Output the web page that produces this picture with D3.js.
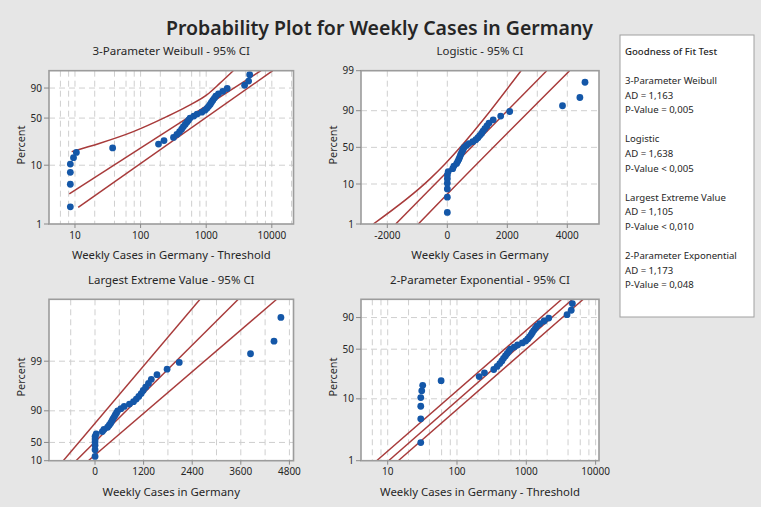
<!DOCTYPE html>
<html><head><meta charset="utf-8">
<script src="https://cdn.jsdelivr.net/npm/d3@7"></script>
<style>
html,body{margin:0;padding:0;background:#e6e6e6;}
svg{display:block;font-family:"Noto Sans","Open Sans",sans-serif;}
</style></head><body>
<svg id="chart" width="761" height="507"></svg>
<script>
// ---------------- data ----------------
const weeklyCases = [1,1,1,1,2,3,30,180,220,310,350,385,415,440,470,500,530,560,640,720,850,950,1020,1080,1140,1190,1250,1320,1390,1530,1780,2080,3840,4420,4590];
const plotPercent = [1.98,4.80,7.63,10.45,13.28,16.10,18.93,21.75,24.58,27.40,30.23,33.05,35.88,38.70,41.53,44.35,47.18,50.00,52.82,55.65,58.47,61.30,64.12,66.95,69.77,72.60,75.42,78.25,81.07,83.90,86.72,89.55,92.37,95.20,98.02];
const weibullThreshold = -7.5;
const exponentialThreshold = -29;

// fitted lines and 95% CI bounds: [axis value, percent]
const weibullFit     = [[8.19,3.3],[6839,99]];
const weibullCIUpper = [[8.91,16.6],[24.0,22.4],[77.4,33.2],[250,52.0],[505,66.6],[1019,82.6],[1622,93.9],[2588,99]];
const weibullCILower = [[11.2,1.94],[10330,99]];
const logisticFit     = [[-1720,1],[3313,99]];
const logisticCIUpper = [[-2467,1],[-577,13.1],[-77,27.0],[2457,99]];
const logisticCILower = [[-967,1],[-77,5.0],[4077,99]];
const levFit     = [[-469,1],[3538,99]];
const levCIUpper = [[-783,1],[2593,99]];
const levCILower = [[-165,1],[4486,99]];
const expFit     = [[10.3,1],[4645,99]];
const expCIUpper = [[6.93,1],[3245,99]];
const expCILower = [[14.2,1],[6637,99]];

// ticks
const logTicks = [10,100,1000,10000];
const logGrid = [6,8,10,20,40,60,80,100,200,400,600,800,1000,2000,4000,6000,8000,10000,20000];
const logisticXTicks = [-2000,0,2000,4000];
const logisticXGrid = [-2000,-1000,0,1000,2000,3000,4000];
const levXTicks = [0,1200,2400,3600,4800];
const levXGrid = [-600,0,600,1200,1800,2400,3000,3600,4200,4800];
const weibullYTicks = [1,10,50,90];
const logisticYTicks = [1,10,50,90,99];
const levYTicks = [1,10,50,90];
const levYTickLabels = ["10","50","90","99"];
const expYTicks = [1,10,50,90];

const gofLines = ["Goodness of Fit Test","","3-Parameter Weibull","AD = 1,163","P-Value = 0,005","",
  "Logistic","AD = 1,638","P-Value < 0,005","","Largest Extreme Value","AD = 1,105","P-Value < 0,010","",
  "2-Parameter Exponential","AD = 1,173","P-Value = 0,048"];

// ---------------- transforms ----------------
const tWeibull  = p => Math.log(-Math.log(1 - p/100));
const tLogistic = p => Math.log(p/(100 - p));
const tLEV      = p => -Math.log(-Math.log(p/100));

const svg = d3.select("#chart");
const TXT = "#262626";
const DOT = "#1457a8";
const LINE = "#a83b3b";
const GRID = "#cfcfcf";

function fitWidth(sel, target){
  const w = sel.node().getComputedTextLength();
  const fs = parseFloat(sel.attr("font-size"));
  if (w > 0) sel.attr("font-size", (fs*target/w).toFixed(2));
}

svg.append("rect").attr("width",761).attr("height",507).attr("fill","#e6e6e6");

const title = svg.append("text").attr("x",379.5).attr("y",35).attr("text-anchor","middle")
  .attr("font-size",21).attr("font-weight",600).attr("fill",TXT)
  .text("Probability Plot for Weekly Cases in Germany");
fitWidth(title, 427);

const panels = [
  {id:"p1", box:{x0:49,x1:293.5,y0:70.7,y1:224}, title:"3-Parameter Weibull - 95% CI", titleW:157.6,
   xTitle:"Weekly Cases in Germany - Threshold", xTitleW:199, xType:"log", xDomain:[4.02,21400],
   xTicks:logTicks, xGrid:logGrid, yT:tWeibull, yTicks:weibullYTicks, yLabels:weibullYTicks.map(String),
   yGrid:[10,50,90], shift:weibullThreshold, lines:[weibullCIUpper,weibullFit,weibullCILower], pctY:145},
  {id:"p2", box:{x0:361,x1:599,y0:70.7,y1:224}, title:"Logistic - 95% CI", titleW:87,
   xTitle:"Weekly Cases in Germany", xTitleW:137.4, xType:"lin", xDomain:[-2877,5057],
   xTicks:logisticXTicks, xGrid:logisticXGrid, yT:tLogistic, yTicks:logisticYTicks, yLabels:logisticYTicks.map(String),
   yGrid:[10,50,90], shift:0, lines:[logisticCIUpper,logisticFit,logisticCILower], pctY:145},
  {id:"p3", box:{x0:49,x1:293.5,y0:299.3,y1:460.7}, title:"Largest Extreme Value - 95% CI", titleW:166.7,
   xTitle:"Weekly Cases in Germany", xTitleW:137.6, xType:"lin", xDomain:[-1136,4901],
   xTicks:levXTicks, xGrid:levXGrid, yT:tLEV, yTicks:levYTicks, yLabels:levYTickLabels,
   yGrid:[10,50,90], shift:0, lines:[levCIUpper,levFit,levCILower], pctY:377},
  {id:"p4", box:{x0:361,x1:599,y0:299.3,y1:460.7}, title:"2-Parameter Exponential - 95% CI", titleW:180,
   xTitle:"Weekly Cases in Germany - Threshold", xTitleW:200, xType:"log", xDomain:[4.12,11190],
   xTicks:logTicks, xGrid:logGrid, yT:tWeibull, yTicks:expYTicks, yLabels:expYTicks.map(String),
   yGrid:[10,50,90], shift:exponentialThreshold, lines:[expCIUpper,expFit,expCILower], pctY:377}
];

panels.forEach(P => {
  const b = P.box;
  const xs = (P.xType === "log" ? d3.scaleLog() : d3.scaleLinear()).domain(P.xDomain).range([b.x0,b.x1]);
  const ylin = d3.scaleLinear().domain([P.yT(1),P.yT(99)]).range([b.y1,b.y0]);
  const ys = p => ylin(P.yT(p));
  const g = svg.append("g");

  g.append("defs").append("clipPath").attr("id","clip-"+P.id)
    .append("rect").attr("x",b.x0).attr("y",b.y0).attr("width",b.x1-b.x0).attr("height",b.y1-b.y0);

  g.append("rect").attr("x",b.x0).attr("y",b.y0).attr("width",b.x1-b.x0).attr("height",b.y1-b.y0)
    .attr("fill","#fff");

  // grid
  const grid = g.append("g").attr("stroke",GRID).attr("stroke-width",1).attr("stroke-dasharray","6,4");
  P.xGrid.filter(v => xs(v) > b.x0+2 && xs(v) < b.x1-1).forEach(v => {
    grid.append("line").attr("x1",xs(v)).attr("x2",xs(v)).attr("y1",b.y0).attr("y2",b.y1);
  });
  P.yGrid.forEach(p => {
    grid.append("line").attr("x1",b.x0).attr("x2",b.x1).attr("y1",ys(p)).attr("y2",ys(p));
  });

  // fitted line + CI
  const lineGen = d3.line().x(d => xs(d[0])).y(d => ys(d[1])).curve(d3.curveMonotoneX);
  const lg = g.append("g").attr("clip-path","url(#clip-"+P.id+")");
  P.lines.forEach(L => {
    lg.append("path").attr("d",lineGen(L)).attr("fill","none").attr("stroke",LINE).attr("stroke-width",1.5);
  });

  // points
  const pg = g.append("g").attr("clip-path","url(#clip-"+P.id+")");
  weeklyCases.forEach((v,i) => {
    pg.append("circle").attr("cx",xs(v - P.shift)).attr("cy",ys(plotPercent[i])).attr("r",3.4).attr("fill",DOT);
  });

  // border
  g.append("rect").attr("x",b.x0).attr("y",b.y0).attr("width",b.x1-b.x0).attr("height",b.y1-b.y0)
    .attr("fill","none").attr("stroke","#9c9c9c").attr("stroke-width",1.6);

  // x ticks
  P.xTicks.forEach(v => {
    const x = xs(v);
    g.append("line").attr("x1",x).attr("x2",x).attr("y1",b.y1).attr("y2",b.y1+4).attr("stroke","#8a8a8a");
    g.append("text").attr("x",x).attr("y",b.y1+14.5).attr("text-anchor","middle")
      .attr("font-size",10).attr("fill",TXT).text(String(v));
  });
  // y ticks
  P.yTicks.forEach((p,i) => {
    const y = ys(p);
    g.append("line").attr("x1",b.x0-5).attr("x2",b.x0).attr("y1",y).attr("y2",y).attr("stroke","#8a8a8a");
    g.append("text").attr("x",b.x0-7).attr("y",y).attr("dy","0.35em").attr("text-anchor","end")
      .attr("font-size",10).attr("fill",TXT).text(P.yLabels[i]);
  });

  // titles
  const cx = (b.x0+b.x1)/2;
  const t = g.append("text").attr("x",cx).attr("y",b.y0-15.5).attr("text-anchor","middle")
    .attr("font-size",12).attr("fill",TXT).text(P.title);
  fitWidth(t, P.titleW);
  const xt = g.append("text").attr("x",cx).attr("y",b.y1+35).attr("text-anchor","middle")
    .attr("font-size",12).attr("fill",TXT).text(P.xTitle);
  fitWidth(xt, P.xTitleW);
  const pxL = b.x0 - 27.5;
  const yt = g.append("text").attr("transform","translate("+pxL+","+P.pctY+") rotate(-90)")
    .attr("text-anchor","middle").attr("dy","0.35em").attr("font-size",12).attr("fill",TXT).text("Percent");
  fitWidth(yt, 39);
});

// goodness of fit box
svg.append("rect").attr("x",620).attr("y",35).attr("width",134).attr("height",282)
  .attr("fill","#fff").attr("stroke","#a0a0a0").attr("stroke-width",1);
gofLines.forEach((s,i) => {
  if (!s) return;
  svg.append("text").attr("x",625).attr("y",51.7 + i*14.57).attr("dy","0.35em")
    .attr("font-size",9.6).attr("fill",TXT).attr("font-weight", i===0 ? 500 : 400).text(s);
});
</script>
</body></html>
